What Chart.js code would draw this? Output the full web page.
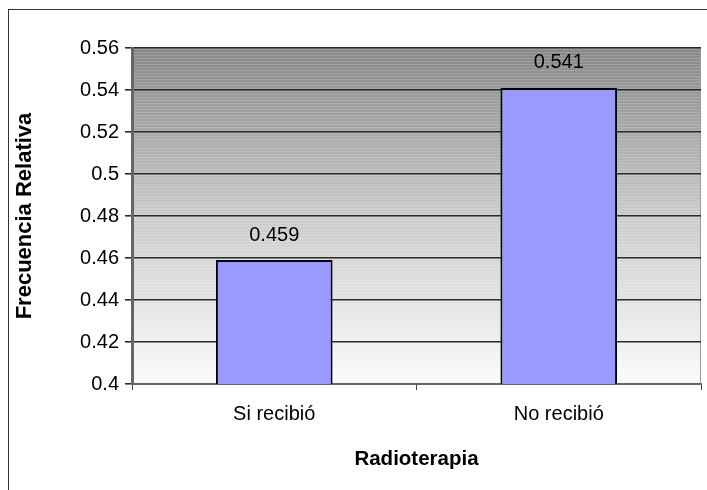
<!DOCTYPE html>
<html>
<head>
<meta charset="utf-8">
<script src="https://cdn.jsdelivr.net/npm/chart.js@4/dist/chart.umd.min.js"></script>
<style>
  html, body { margin: 0; padding: 0; background: #fff; }
  #wrap { position: relative; width: 707px; height: 490px; }
</style>
</head>
<body>
<div id="wrap"><canvas id="c"></canvas></div>
<script>
const categories = ['Si recibió', 'No recibió']
const frecuencias = [0.459, 0.541]
const yMin = 0.4
const yMax = 0.56
const yStep = 0.02

const FONT = '"Liberation Sans", Arial, sans-serif'

// fondo degradado con rayas, borde exterior
const fondo = {
  id: 'fondo',
  beforeDraw (chart) {
    const { ctx, chartArea: a } = chart
    ctx.save()
    ctx.strokeStyle = '#333'
    ctx.lineWidth = 1
    ctx.strokeRect(8.5, 9.5, 900, 700)
    const g = ctx.createLinearGradient(0, a.top, 0, a.bottom)
    g.addColorStop(0, '#888888')
    g.addColorStop(0.5, '#cbcbcb')
    g.addColorStop(1, '#fbfbfb')
    ctx.fillStyle = g
    ctx.fillRect(a.left, a.top, a.right - a.left, a.bottom - a.top)
    ctx.fillStyle = 'rgba(255,255,255,0.16)'
    for (let y = a.top + 1; y < a.bottom; y += 3) {
      ctx.fillRect(a.left, y, a.right - a.left, 1)
    }
    ctx.strokeStyle = '#999'
    ctx.beginPath()
    ctx.moveTo(a.right - 0.5, a.top)
    ctx.lineTo(a.right - 0.5, a.bottom)
    ctx.moveTo(a.left, a.top + 0.5)
    ctx.lineTo(a.right, a.top + 0.5)
    ctx.stroke()
    ctx.restore()
  }
}

const etiquetas = {
  id: 'etiquetas',
  afterDatasetsDraw (chart) {
    const { ctx } = chart
    const meta = chart.getDatasetMeta(0)
    ctx.save()
    ctx.font = '20px ' + FONT
    ctx.fillStyle = '#000'
    ctx.textAlign = 'center'
    ctx.textBaseline = 'middle'
    meta.data.forEach((bar, i) => {
      const p = bar.getProps(['x', 'y'], true)
      ctx.fillText(frecuencias[i].toString(), p.x, p.y - 25)
    })
    ctx.restore()
  }
}

const ctx = document.getElementById('c')
new Chart(ctx, {
  type: 'bar',
  data: {
    labels: categories,
    datasets: [{
      data: frecuencias,
      backgroundColor: '#9999ff',
      borderColor: '#000',
      borderWidth: 2,
      borderSkipped: false,
      barPercentage: 0.41,
      categoryPercentage: 1
    }]
  },
  options: {
    responsive: true,
    maintainAspectRatio: false,
    animation: false,
    layout: { padding: { top: 48, right: 6, left: 12, bottom: 6 } },
    plugins: { legend: { display: false }, tooltip: { enabled: false } },
    scales: {
      x: {
        afterFit (s) { s.height = 100 },
        grid: { display: true, drawOnChartArea: false, offset: true, color: '#444', tickLength: 6 },
        border: { color: '#666', width: 2 },
        ticks: { color: '#000', font: { family: FONT, size: 20 }, padding: 12 },
        title: { display: true, text: 'Radioterapia', color: '#000', font: { family: FONT, size: 20.5, weight: 'bold' }, padding: { top: 0, bottom: 12 } }
      },
      y: {
        min: yMin,
        max: yMax,
        afterFit (s) { s.width = 120 },
        grid: { color: '#2a2a2a', lineWidth: 1.6, tickLength: 7 },
        border: { color: '#666', width: 3 },
        ticks: {
          stepSize: yStep,
          color: '#000',
          padding: 6,
          font: { family: FONT, size: 20 },
          callback: v => parseFloat(v.toFixed(2)).toString()
        },
        title: { display: true, text: 'Frecuencia Relativa', color: '#000', font: { family: FONT, size: 22, weight: 'bold' }, padding: { top: 0, bottom: 0 } }
      }
    }
  },
  plugins: [fondo, etiquetas]
})
</script>
</body>
</html>
